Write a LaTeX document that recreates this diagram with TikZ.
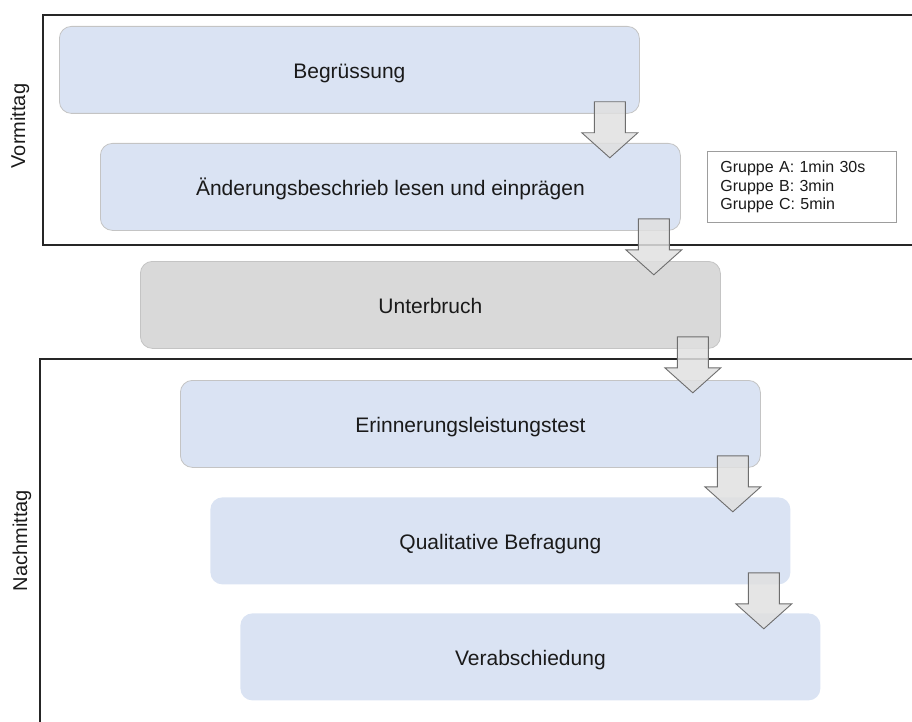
\documentclass[tikz,border=0pt]{standalone}
\usepackage{fontspec}
\setmainfont{Liberation Sans}
\usepackage{tikz}
\usetikzlibrary{calc,positioning}
\definecolor{boxblue}{HTML}{DAE3F3}
\definecolor{boxline}{HTML}{C4C4C4}
\definecolor{pausegray}{HTML}{D9D9D9}
\definecolor{arrowgray}{HTML}{E0E0E0}
\definecolor{arrowline}{HTML}{6E6E6E}
\definecolor{textdark}{HTML}{1A1A1A}
\newcommand{\downblock}[1]{\draw[blockarrow] #1 ++(-15.5,0) -- ++(31,0) -- ++(0,31) -- ++(12.5,0) -- ++(-28,25) -- ++(-28,-25) -- ++(12.5,0) -- cycle;}

\begin{document}
\begin{tikzpicture}[x=1pt,y=-1pt,
  phase/.style={draw=boxline,line width=0.8pt,fill=boxblue,rounded corners=12pt,minimum width=580pt,minimum height=87pt,text height=19pt,text depth=2pt,anchor=north west,text=textdark,font=\fontsize{21}{25}\selectfont},
  pause/.style={phase,fill=pausegray},
  blockarrow/.style={draw=arrowline,line width=0.9pt,fill=arrowgray,fill opacity=0.85,line join=miter},
  frame/.style={draw=black!85,line width=1.2pt},
  daylabel/.style={rotate=90,text=textdark,font=\fontsize{20}{24}\selectfont}]
\useasboundingbox (0,0) rectangle (912,722);
\draw[frame] (912,15) coordinate(VR) -- (43,15) coordinate(VT) -- (43,245) coordinate(VB) -- (912,245);
\draw[frame] (912,359) coordinate(NR) -- (40,359) coordinate(NT) -- (40,722) coordinate(NB);
\node[daylabel] (vm) at ($(VT)!0.5!(VB)+(-23,-4)$) {Vormittag};
\node[daylabel] (nm) at ($(NT)!0.5!(NB)+(-18,0)$) {Nachmittag};
\node[phase] (b1) at (59,26) {Begrüssung};
\node[phase] (b2) at (100,143) {Änderungsbeschrieb lesen und einprägen};
\node[pause] (b3) at (140,261) {Unterbruch};
\node[phase] (b4) at (180,380) {Erinnerungsleistungstest};
\node[phase,draw=none] (b5) at (210,497) {Qualitative Befragung};
\node[phase,draw=none] (b6) at (240,613) {Verabschiedung};
\node[draw=boxline!80!black,line width=0.8pt,anchor=north west,minimum width=189pt,minimum height=71pt,text width=163pt,inner xsep=13pt,align=left,text=textdark,font=\fontsize{16}{18.3}\selectfont] (grp) at (707,151) {Gruppe A: 1min 30s\\Gruppe B: 3min\\Gruppe C: 5min};
\downblock{($(b1.south east)+(-30,-12)$)}
\downblock{($(b2.south east)+(-27,-12)$)}
\downblock{($(b3.south east)+(-28,-12)$)}
\downblock{($(b4.south east)+(-28,-12)$)}
\downblock{($(b5.south east)+(-27,-12)$)}
\end{tikzpicture}
\end{document}
